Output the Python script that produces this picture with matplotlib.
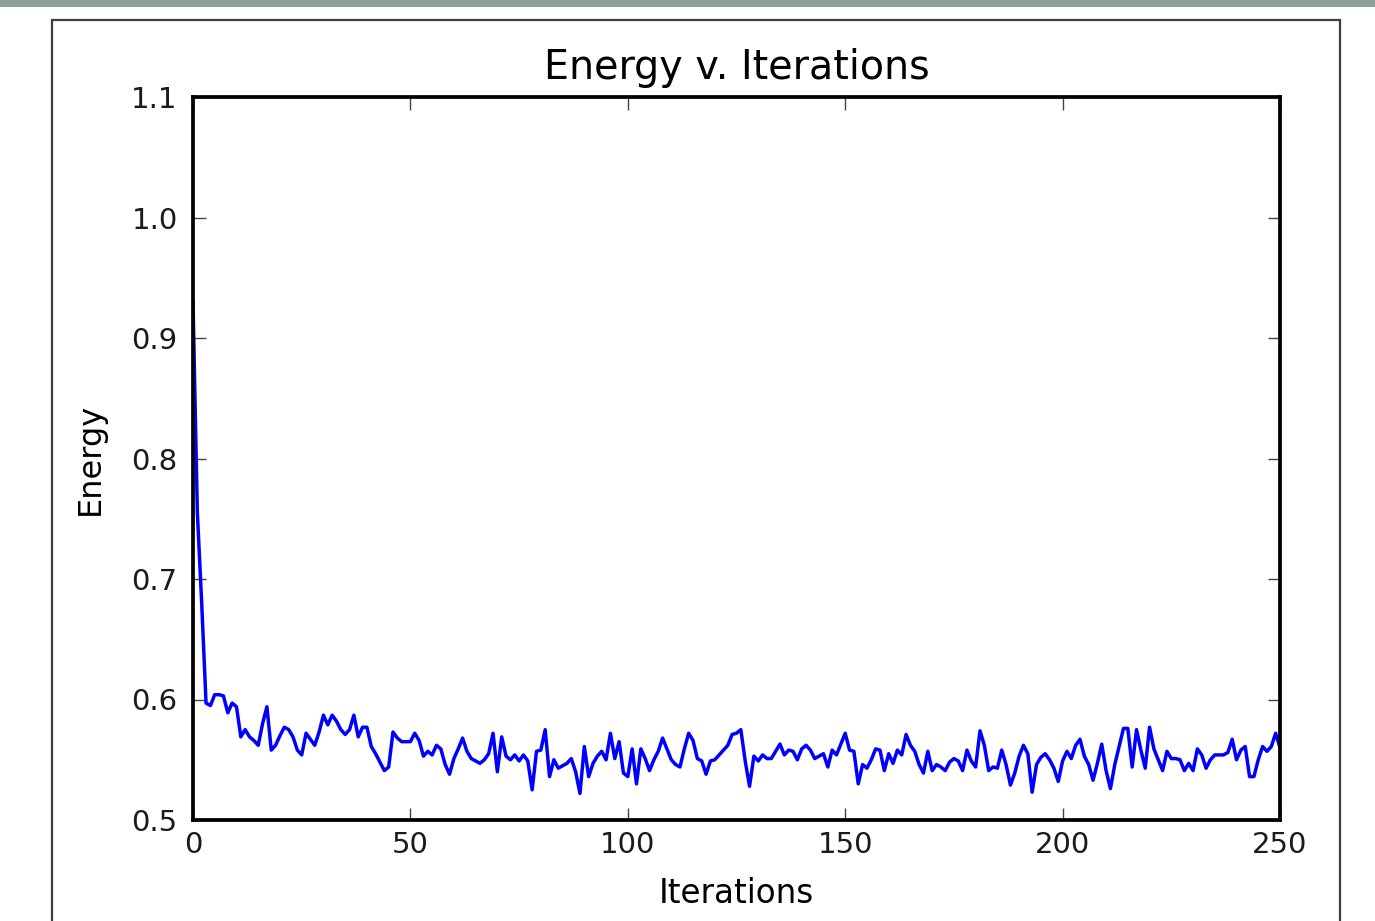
import numpy as np
import matplotlib
matplotlib.use('Agg')
import matplotlib.pyplot as plt
from matplotlib.patches import Rectangle

# energy per iteration (0..250)
energy_0_49 = [0.930, 0.755, 0.680, 0.597, 0.595, 0.604, 0.604, 0.603, 0.589, 0.597,
               0.594, 0.569, 0.575, 0.569, 0.566, 0.562, 0.580, 0.594, 0.558, 0.562,
               0.570, 0.577, 0.575, 0.569, 0.558, 0.554, 0.572, 0.567, 0.562, 0.573,
               0.587, 0.579, 0.587, 0.582, 0.575, 0.571, 0.575, 0.587, 0.569, 0.577,
               0.577, 0.561, 0.555, 0.548, 0.541, 0.544, 0.573, 0.568, 0.565, 0.565]
energy_50_99 = [0.565, 0.572, 0.566, 0.553, 0.557, 0.554, 0.562, 0.559, 0.546, 0.538,
                0.551, 0.559, 0.568, 0.557, 0.551, 0.549, 0.547, 0.550, 0.555, 0.572,
                0.540, 0.569, 0.553, 0.550, 0.554, 0.549, 0.554, 0.549, 0.525, 0.557,
                0.558, 0.575, 0.536, 0.550, 0.543, 0.545, 0.547, 0.551, 0.540, 0.522,
                0.561, 0.536, 0.547, 0.553, 0.557, 0.550, 0.572, 0.551, 0.565, 0.539]
energy_100_149 = [0.536, 0.559, 0.530, 0.559, 0.551, 0.541, 0.550, 0.557, 0.568, 0.559,
                  0.550, 0.546, 0.544, 0.559, 0.572, 0.566, 0.551, 0.549, 0.538, 0.549,
                  0.550, 0.554, 0.558, 0.562, 0.571, 0.572, 0.575, 0.549, 0.528, 0.553,
                  0.549, 0.554, 0.551, 0.551, 0.557, 0.563, 0.554, 0.558, 0.557, 0.550,
                  0.559, 0.562, 0.558, 0.551, 0.553, 0.555, 0.544, 0.558, 0.554, 0.563]
energy_150_199 = [0.572, 0.558, 0.557, 0.530, 0.546, 0.543, 0.550, 0.559, 0.558, 0.541,
                  0.555, 0.547, 0.558, 0.554, 0.571, 0.562, 0.557, 0.546, 0.539, 0.557,
                  0.541, 0.546, 0.544, 0.541, 0.548, 0.551, 0.549, 0.541, 0.558, 0.549,
                  0.544, 0.574, 0.562, 0.541, 0.544, 0.543, 0.558, 0.546, 0.529, 0.539,
                  0.553, 0.562, 0.555, 0.523, 0.546, 0.552, 0.555, 0.550, 0.543, 0.532]
energy_200_250 = [0.549, 0.557, 0.551, 0.562, 0.567, 0.553, 0.546, 0.533, 0.547, 0.563,
                  0.541, 0.526, 0.546, 0.561, 0.576, 0.576, 0.544, 0.575, 0.558, 0.543,
                  0.577, 0.559, 0.550, 0.541, 0.557, 0.551, 0.551, 0.550, 0.541, 0.547,
                  0.541, 0.559, 0.554, 0.543, 0.550, 0.554, 0.554, 0.554, 0.556, 0.567,
                  0.550, 0.558, 0.561, 0.536, 0.536, 0.550, 0.561, 0.557, 0.561, 0.572,
                  0.560]

energy = energy_0_49 + energy_50_99 + energy_100_149 + energy_150_199 + energy_200_250
iterations = np.arange(len(energy))

xticks = [0, 50, 100, 150, 200, 250]
yticks = [0.5, 0.6, 0.7, 0.8, 0.9, 1.0, 1.1]

plt.rcParams['font.family'] = ['DejaVu Sans']

W, H = 1375, 921
fig = plt.figure(figsize=(W / 100, H / 100), dpi=100, facecolor='white')

# grey strip on top and the panel frame around the plot
fig.add_artist(Rectangle((0, 1 - 7 / H), 1, 7 / H, transform=fig.transFigure,
                         facecolor='#8fa096', edgecolor='none'))
fig.add_artist(Rectangle((52 / W, -0.02), (1340 - 52) / W, 0.02 + 1 - 20 / H,
                         transform=fig.transFigure, facecolor='none',
                         edgecolor='#3c3c48', linewidth=1.6))

ax = fig.add_axes([193 / W, 1 - 820 / H, (1280 - 193) / W, (820 - 97) / H])
ax.plot(iterations, energy, color='#0000ff', linewidth=2.5)

ax.set_xlim(0, 250)
ax.set_ylim(0.5, 1.1)
ax.set_xticks(xticks)
ax.set_yticks(yticks)
ax.set_xticklabels([str(t) for t in xticks])
ax.set_yticklabels(['%.1f' % t for t in yticks])

for s in ax.spines.values():
    s.set_linewidth(2.7)
ax.tick_params(direction='in', length=9, width=1.0, top=True, right=True,
               labelsize=21, color='#444444', labelcolor='#1a1a1a')
ax.tick_params(axis='x', pad=8)
ax.tick_params(axis='y', pad=11)

ax.set_title('Energy v. Iterations', fontsize=28.5, pad=13)
ax.set_xlabel('Iterations', fontsize=23.5, labelpad=13)
ax.set_ylabel('Energy', fontsize=23, labelpad=18)

fig.savefig('out.png', dpi=100, facecolor='white')
